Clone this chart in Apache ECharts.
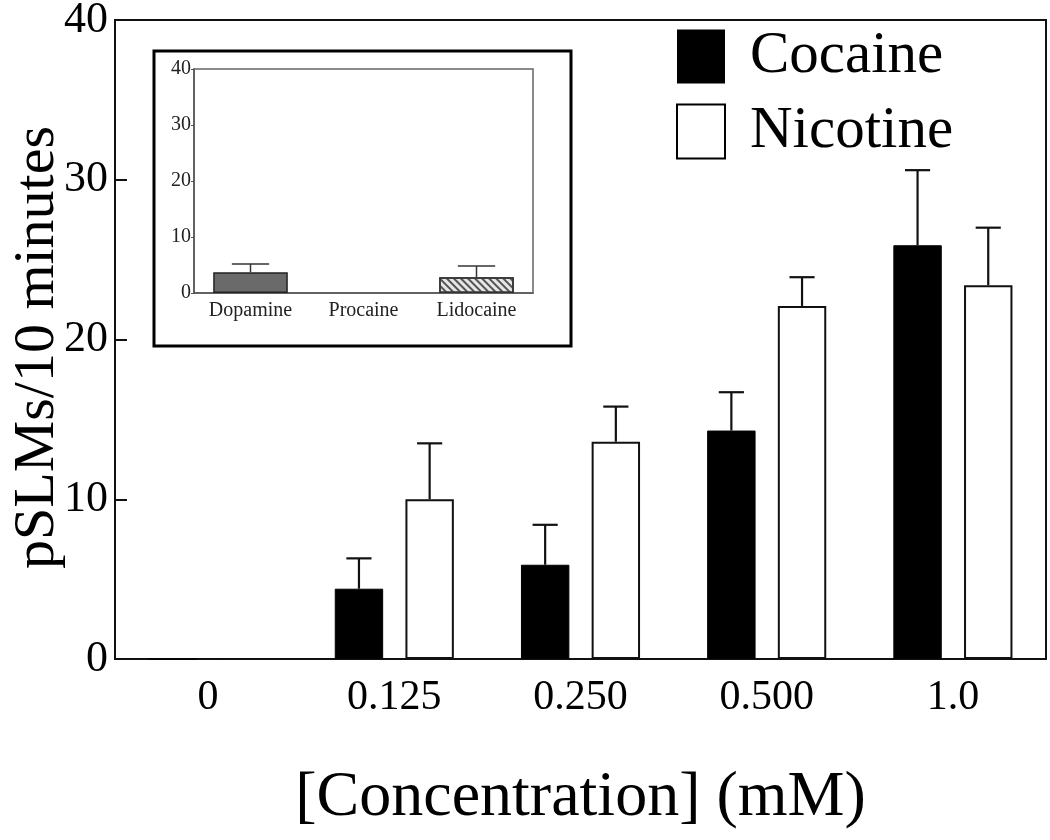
<!DOCTYPE html>
<html><head><meta charset="utf-8">
<script src="https://cdn.jsdelivr.net/npm/echarts@6/dist/echarts.min.js"></script>
<style>html,body{margin:0;padding:0;background:#fff}#c{width:1050px;height:840px}</style>
</head><body><div id="c"></div>
<script>
const categories = ['0', '0.125', '0.250', '0.500', '1.0'];
const cocaine = [0, 4.4, 5.9, 14.3, 25.9];
const cocaineErr = [0, 1.9, 2.5, 2.4, 4.7];
const nicotine = [0, 10.0, 13.6, 22.1, 23.4];
const nicotineErr = [0, 3.5, 2.2, 1.8, 3.6];
const yTicks = [0, 10, 20, 30, 40];

const insetCategories = ['Dopamine', 'Procaine', 'Lidocaine'];
const insetValues = [3.7, 0, 2.8];
const insetErr = [1.5, 0, 2.0];

const FONT = "'Liberation Serif', 'Times New Roman', serif";
const BAR_W = 0.26, BAR_GAP = 0.46;
const OFF = (BAR_W + BAR_W * BAR_GAP) / 2;

function errSeries(vals, errs, sign, capFrac, xAxisIndex, yAxisIndex, lw) {
  return {
    type: 'custom', xAxisIndex, yAxisIndex, z: 1,
    data: vals.map((v, i) => [i, v, errs[i]]),
    renderItem: function (params, api) {
      const e = api.value(2);
      if (!e) return null;
      const i = api.value(0), v = api.value(1);
      const bw = api.size([1, 0])[0];
      const p0 = api.coord([i, v]);
      const p1 = api.coord([i, v + e]);
      const x = p0[0] + sign * OFF * bw;
      const cap = bw * capFrac / 2;
      return {
        type: 'group', children: [
          { type: 'line', shape: { x1: x, y1: p0[1], x2: x, y2: p1[1] }, style: { stroke: '#111', lineWidth: lw } },
          { type: 'line', shape: { x1: x - cap, y1: p1[1], x2: x + cap, y2: p1[1] }, style: { stroke: '#111', lineWidth: lw } }
        ]
      };
    }
  };
}

const chart = echarts.init(document.getElementById('c'), null, { renderer: 'canvas' });
chart.setOption({
  backgroundColor: '#fff',
  animation: false,
  textStyle: { fontFamily: FONT },
  legend: {
    orient: 'vertical', left: 671, top: 22,
    icon: 'rect',
    itemWidth: 48, itemHeight: 54, itemGap: 16,
    textStyle: { fontFamily: FONT, fontSize: 59, color: '#000', lineHeight: 54, padding: [0, 0, 0, 20] },
    data: [
      { name: 'Cocaine', itemStyle: { color: '#000', borderColor: '#000', borderWidth: 0 } },
      { name: 'Nicotine', itemStyle: { color: '#fff', borderColor: '#000', borderWidth: 2 } }
    ]
  },
  graphic: [
    { type: 'rect', shape: { x: 154, y: 51, width: 417, height: 295 }, style: { fill: 'none', stroke: '#000', lineWidth: 3 }, z: 1 }
  ],
  grid: [
    { left: 115, top: 20, right: 4, bottom: 181, show: true, borderColor: '#111', borderWidth: 2, backgroundColor: 'transparent', containLabel: false, outerBoundsMode: 'none' },
    { left: 194, top: 69, width: 339, height: 224, show: true, borderColor: '#666', borderWidth: 1.5, backgroundColor: 'transparent', containLabel: false, outerBoundsMode: 'none' }
  ],
  xAxis: [
    {
      type: 'category', gridIndex: 0, data: categories,
      axisLine: { lineStyle: { color: '#111', width: 2 } },
      axisTick: { show: false },
      axisLabel: { fontFamily: FONT, fontSize: 42, color: '#000', margin: 18 },
      name: '[Concentration] (mM)', nameLocation: 'middle', nameGap: 107, nameMoveOverlap: false,
      nameTextStyle: { fontFamily: FONT, fontSize: 64, color: '#000' }
    },
    {
      type: 'category', gridIndex: 1, data: insetCategories,
      axisLine: { lineStyle: { color: '#555', width: 1.5 } },
      axisTick: { show: false },
      axisLabel: { fontFamily: FONT, fontSize: 20, color: '#222', margin: 8 }
    }
  ],
  yAxis: [
    {
      type: 'value', gridIndex: 0, min: 0, max: 40, interval: 10,
      axisLine: { show: true, lineStyle: { color: '#111', width: 2 } },
      axisTick: { show: true, inside: true, length: 12, lineStyle: { color: '#111', width: 2 } },
      splitLine: { show: false },
      axisLabel: { fontFamily: FONT, fontSize: 44, color: '#000', margin: 7,
        formatter: v => yTicks.includes(v) ? String(v) : '' },
      name: 'pSLMs/10 minutes', nameLocation: 'middle', nameGap: 48, nameRotate: 90, nameMoveOverlap: false,
      nameTextStyle: { fontFamily: FONT, fontSize: 58, color: '#000', padding: [0, 16, 0, 0] }
    },
    {
      type: 'value', gridIndex: 1, min: 0, max: 40, interval: 10,
      axisLine: { show: true, lineStyle: { color: '#555', width: 1.5 } },
      axisTick: { show: true, length: 3, lineStyle: { color: '#555' } },
      splitLine: { show: false },
      axisLabel: { fontFamily: FONT, fontSize: 20, color: '#222', margin: 3 }
    }
  ],
  series: [
    {
      name: 'Cocaine', type: 'bar', xAxisIndex: 0, yAxisIndex: 0, data: cocaine,
      barWidth: (BAR_W * 100) + '%', barGap: (BAR_GAP * 100) + '%',
      itemStyle: { color: '#000', borderColor: '#000', borderWidth: 1 }
    },
    {
      name: 'Nicotine', type: 'bar', xAxisIndex: 0, yAxisIndex: 0, data: nicotine,
      barWidth: (BAR_W * 100) + '%', barGap: (BAR_GAP * 100) + '%',
      itemStyle: { color: '#fff', borderColor: '#111', borderWidth: 2 }
    },
    errSeries(cocaine, cocaineErr, -1, 0.135, 0, 0, 2.2),
    errSeries(nicotine, nicotineErr, 1, 0.135, 0, 0, 2.2),
    {
      name: 'Inset', type: 'bar', xAxisIndex: 1, yAxisIndex: 1, barWidth: '66%',
      data: insetValues.map((v, i) => i === 2 ? {
        value: v,
        itemStyle: { color: '#e6e6e6', borderColor: '#333', borderWidth: 1.5,
          decal: { symbol: 'rect', symbolSize: 1, dashArrayX: [1, 0], dashArrayY: [1.5, 2.5], rotation: Math.PI / 4, color: '#555' } }
      } : { value: v, itemStyle: { color: '#6a6a6a', borderColor: '#222', borderWidth: v ? 1.5 : 0 } })
    },
    {
      type: 'custom', xAxisIndex: 1, yAxisIndex: 1, z: 1,
      data: insetValues.map((v, i) => [i, v, insetErr[i]]),
      renderItem: function (params, api) {
        const e = api.value(2);
        if (!e) return null;
        const i = api.value(0), v = api.value(1);
        const bw = api.size([1, 0])[0];
        const p0 = api.coord([i, v]);
        const p1 = api.coord([i, v + e]);
        const cap = bw * 0.33 / 2;
        return { type: 'group', children: [
          { type: 'line', shape: { x1: p0[0], y1: p0[1], x2: p0[0], y2: p1[1] }, style: { stroke: '#333', lineWidth: 1.5 } },
          { type: 'line', shape: { x1: p0[0] - cap, y1: p1[1], x2: p0[0] + cap, y2: p1[1] }, style: { stroke: '#333', lineWidth: 1.5 } }
        ] };
      }
    }
  ]
});
</script></body></html>
